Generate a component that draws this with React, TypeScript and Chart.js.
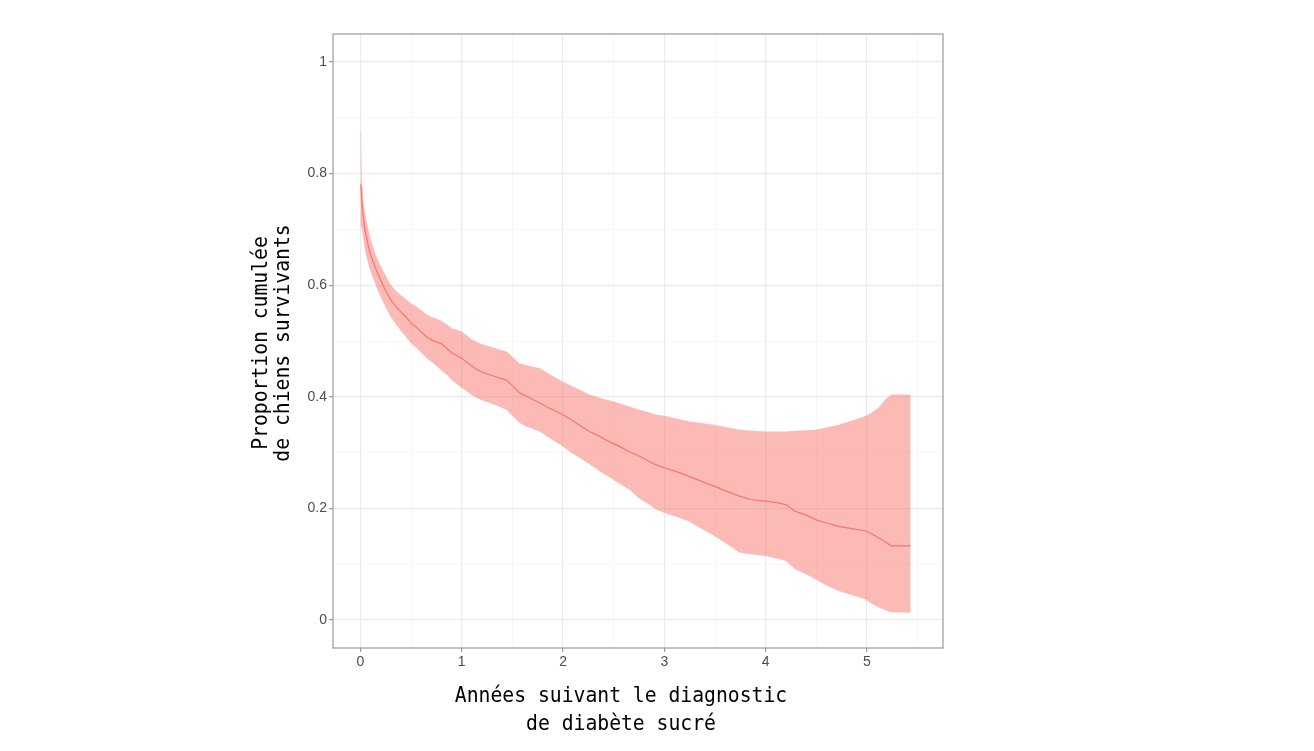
import React, { useEffect, useRef } from "react";
import { Chart, registerables } from "chart.js";

Chart.register(...registerables);

// Years since diagnosis (step times)
const times = [
  0.0, 0.006, 0.012, 0.02, 0.04, 0.06, 0.08, 0.1, 0.13, 0.16, 0.2, 0.25, 0.3, 0.35, 0.4, 0.45, 0.5,
  0.55, 0.6, 0.65, 0.7, 0.75, 0.8, 0.85, 0.9, 0.95, 1.0, 1.05, 1.1, 1.15, 1.2, 1.28, 1.35,
  1.44, 1.5, 1.57, 1.65, 1.77, 1.85, 1.92, 2.0, 2.08, 2.17, 2.26, 2.35, 2.42, 2.49, 2.58,
  2.66, 2.75, 2.85, 2.92, 3.0, 3.12, 3.24, 3.36, 3.49, 3.6, 3.74, 3.85, 4.0, 4.12, 4.2,
  4.29, 4.4, 4.49, 4.6, 4.72, 4.85, 4.98, 5.04, 5.11, 5.18, 5.24, 5.43,
];
// Kaplan-Meier estimate
const survival = [
  0.78, 0.775, 0.755, 0.735, 0.705, 0.685, 0.668, 0.655, 0.64, 0.625, 0.609, 0.59, 0.573, 0.562,
  0.552, 0.543, 0.532, 0.525, 0.516, 0.508, 0.502, 0.498, 0.495, 0.487, 0.479, 0.474, 0.469,
  0.462, 0.455, 0.449, 0.444, 0.439, 0.435, 0.43, 0.42, 0.407, 0.4, 0.389, 0.381, 0.375,
  0.368, 0.359, 0.348, 0.338, 0.33, 0.323, 0.317, 0.309, 0.301, 0.294, 0.284, 0.278, 0.273,
  0.266, 0.258, 0.249, 0.24, 0.232, 0.222, 0.216, 0.213, 0.21, 0.207, 0.195, 0.188, 0.18,
  0.174, 0.168, 0.164, 0.16, 0.155, 0.148, 0.14, 0.133, 0.133,
];
// Lower confidence bound
const lower = [
  0.7, 0.705, 0.705, 0.695, 0.668, 0.65, 0.636, 0.625, 0.61, 0.595, 0.579, 0.56, 0.543, 0.53, 0.518,
  0.507, 0.496, 0.488, 0.479, 0.47, 0.463, 0.455, 0.447, 0.44, 0.43, 0.423, 0.416, 0.41,
  0.403, 0.398, 0.394, 0.389, 0.384, 0.377, 0.366, 0.353, 0.346, 0.338, 0.328, 0.32, 0.311,
  0.3, 0.29, 0.279, 0.268, 0.26, 0.252, 0.242, 0.233, 0.218, 0.207, 0.198, 0.192, 0.185,
  0.177, 0.164, 0.151, 0.138, 0.121, 0.118, 0.115, 0.11, 0.106, 0.091, 0.082, 0.073, 0.062,
  0.052, 0.045, 0.0375, 0.03, 0.023, 0.018, 0.014, 0.013,
];
// Upper confidence bound
const upper = [
  0.874, 0.874, 0.79, 0.765, 0.735, 0.715, 0.698, 0.683, 0.665, 0.65, 0.635, 0.617, 0.6, 0.59, 0.582,
  0.575, 0.567, 0.562, 0.555, 0.548, 0.543, 0.54, 0.536, 0.53, 0.523, 0.52, 0.517, 0.51,
  0.503, 0.498, 0.494, 0.49, 0.486, 0.481, 0.472, 0.46, 0.456, 0.451, 0.442, 0.435, 0.427,
  0.42, 0.412, 0.404, 0.399, 0.395, 0.392, 0.387, 0.382, 0.377, 0.372, 0.368, 0.366, 0.361,
  0.356, 0.353, 0.35, 0.346, 0.341, 0.339, 0.338, 0.338, 0.338, 0.339, 0.34, 0.341, 0.345,
  0.35, 0.357, 0.365, 0.371, 0.38, 0.395, 0.404, 0.404,
];

const xMajorTicks = [0, 1, 2, 3, 4, 5];
const xMinorTicks = [0.5, 1.5, 2.5, 3.5, 4.5, 5.5];
const xTickLabels = ["0", "1", "2", "3", "4", "5"];
const yMajorTicks = [0, 0.2, 0.4, 0.6, 0.8, 1];
const yMinorTicks = [0.1, 0.3, 0.5, 0.7, 0.9];
const yTickLabels = ["0", "0.2", "0.4", "0.6", "0.8", "1"];

const xTitle = ["Années suivant le diagnostic", "de diabète sucré"];
const yTitle = ["Proportion cumulée", "de chiens survivants"];

const findIdx = (arr: number[], v: number) => arr.findIndex((a) => Math.abs(a - v) < 1e-9);

const TITLE_FONT = "22px 'DejaVu Sans Mono', monospace";
const TITLE_SCALE_X = 0.896;

const panelBorder = {
  id: "panelBorder",
  afterDatasetsDraw(chart: any) {
    const { ctx, chartArea } = chart;
    ctx.save();
    ctx.strokeStyle = "#9a9a9a";
    ctx.lineWidth = 1.2;
    ctx.strokeRect(chartArea.left, chartArea.top, chartArea.right - chartArea.left, chartArea.bottom - chartArea.top);
    ctx.restore();
  },
};

const axisTitles = {
  id: "axisTitles",
  afterDraw(chart: any) {
    const { ctx } = chart;
    ctx.save();
    ctx.fillStyle = "#000";
    ctx.font = TITLE_FONT;
    ctx.textAlign = "center";
    ctx.textBaseline = "alphabetic";
    // x title
    xTitle.forEach((line, i) => {
      ctx.save();
      ctx.translate(621, 701.5 + i * 28.5);
      ctx.scale(TITLE_SCALE_X, 1);
      ctx.fillText(line, 0, 0);
      ctx.restore();
    });
    // y title
    yTitle.forEach((line, i) => {
      ctx.save();
      ctx.translate(267 + i * 22, 343);
      ctx.rotate(-Math.PI / 2);
      ctx.scale(TITLE_SCALE_X, 1);
      ctx.fillText(line, 0, 0);
      ctx.restore();
    });
    ctx.restore();
  },
};

export default function App() {
  const canvasRef = useRef<HTMLCanvasElement | null>(null);

  useEffect(() => {
    if (!canvasRef.current) return;
    const pts = (vals: number[]) => times.map((t, i) => ({ x: t, y: vals[i] }));
    const tickFont = { family: "'Liberation Sans', Arial, sans-serif", size: 14 };

    const chart = new Chart(canvasRef.current, {
      type: "line",
      data: {
        datasets: [
          {
            label: "upper",
            data: pts(upper),
            borderWidth: 0,
            pointRadius: 0,
            tension: 0,
            borderColor: "rgba(0,0,0,0)",
            backgroundColor: "rgba(248,118,109,0.5)",
            fill: "+1",
            order: 2,
          },
          {
            label: "lower",
            data: pts(lower),
            borderWidth: 0,
            pointRadius: 0,
            tension: 0,
            borderColor: "rgba(0,0,0,0)",
            fill: false,
            order: 2,
          },
          {
            label: "survie",
            data: pts(survival),
            borderWidth: 1.2,
            pointRadius: 0,
            tension: 0,
            borderColor: "#F8766D",
            fill: false,
            order: 0,
          },
        ],
      },
      options: {
        animation: false,
        responsive: true,
        maintainAspectRatio: false,
        layout: { padding: { left: 240, right: 371, top: 34, bottom: 0 } },
        plugins: { legend: { display: false }, tooltip: { enabled: false } },
        scales: {
          x: {
            type: "linear",
            min: -0.271,
            max: 5.75,
            afterBuildTicks: (scale: any) => {
              scale.ticks = [...xMajorTicks, ...xMinorTicks].sort((a, b) => a - b).map((v) => ({ value: v }));
            },
            afterFit: (scale: any) => {
              scale.height = 103;
            },
            border: { display: false },
            grid: {
              color: (c: any) => (findIdx(xMajorTicks, c.tick?.value) >= 0 ? "#ebebeb" : "#f4f4f4"),
              lineWidth: (c: any) => (findIdx(xMajorTicks, c.tick?.value) >= 0 ? 1.2 : 0.7),
              tickColor: (c: any) => (findIdx(xMajorTicks, c.tick?.value) >= 0 ? "#9a9a9a" : "rgba(0,0,0,0)"),
              tickLength: 4,
              tickWidth: 1.2,
            },
            ticks: {
              autoSkip: false,
              maxRotation: 0,
              padding: 2,
              color: "#4d4d4d",
              font: tickFont,
              callback: (v: any) => {
                const i = findIdx(xMajorTicks, Number(v));
                return i >= 0 ? xTickLabels[i] : "";
              },
            },
          },
          y: {
            type: "linear",
            min: -0.05,
            max: 1.05,
            afterBuildTicks: (scale: any) => {
              scale.ticks = [...yMajorTicks, ...yMinorTicks].sort((a, b) => a - b).map((v) => ({ value: v }));
            },
            afterFit: (scale: any) => {
              scale.width = 93;
            },
            border: { display: false },
            grid: {
              color: (c: any) => (findIdx(yMajorTicks, c.tick?.value) >= 0 ? "#ebebeb" : "#f4f4f4"),
              lineWidth: (c: any) => (findIdx(yMajorTicks, c.tick?.value) >= 0 ? 1.2 : 0.7),
              tickColor: (c: any) => (findIdx(yMajorTicks, c.tick?.value) >= 0 ? "#9a9a9a" : "rgba(0,0,0,0)"),
              tickLength: 4,
              tickWidth: 1.2,
            },
            ticks: {
              autoSkip: false,
              padding: 2,
              color: "#4d4d4d",
              font: tickFont,
              callback: (v: any) => {
                const i = findIdx(yMajorTicks, Number(v));
                return i >= 0 ? yTickLabels[i] : "";
              },
            },
          },
        },
      },
      plugins: [panelBorder, axisTitles],
    } as any);

    return () => chart.destroy();
  }, []);

  return (
    <div style={{ position: "absolute", left: 0, top: 0, width: 1314, height: 751, background: "#fff" }}>
      <canvas ref={canvasRef} />
    </div>
  );
}
